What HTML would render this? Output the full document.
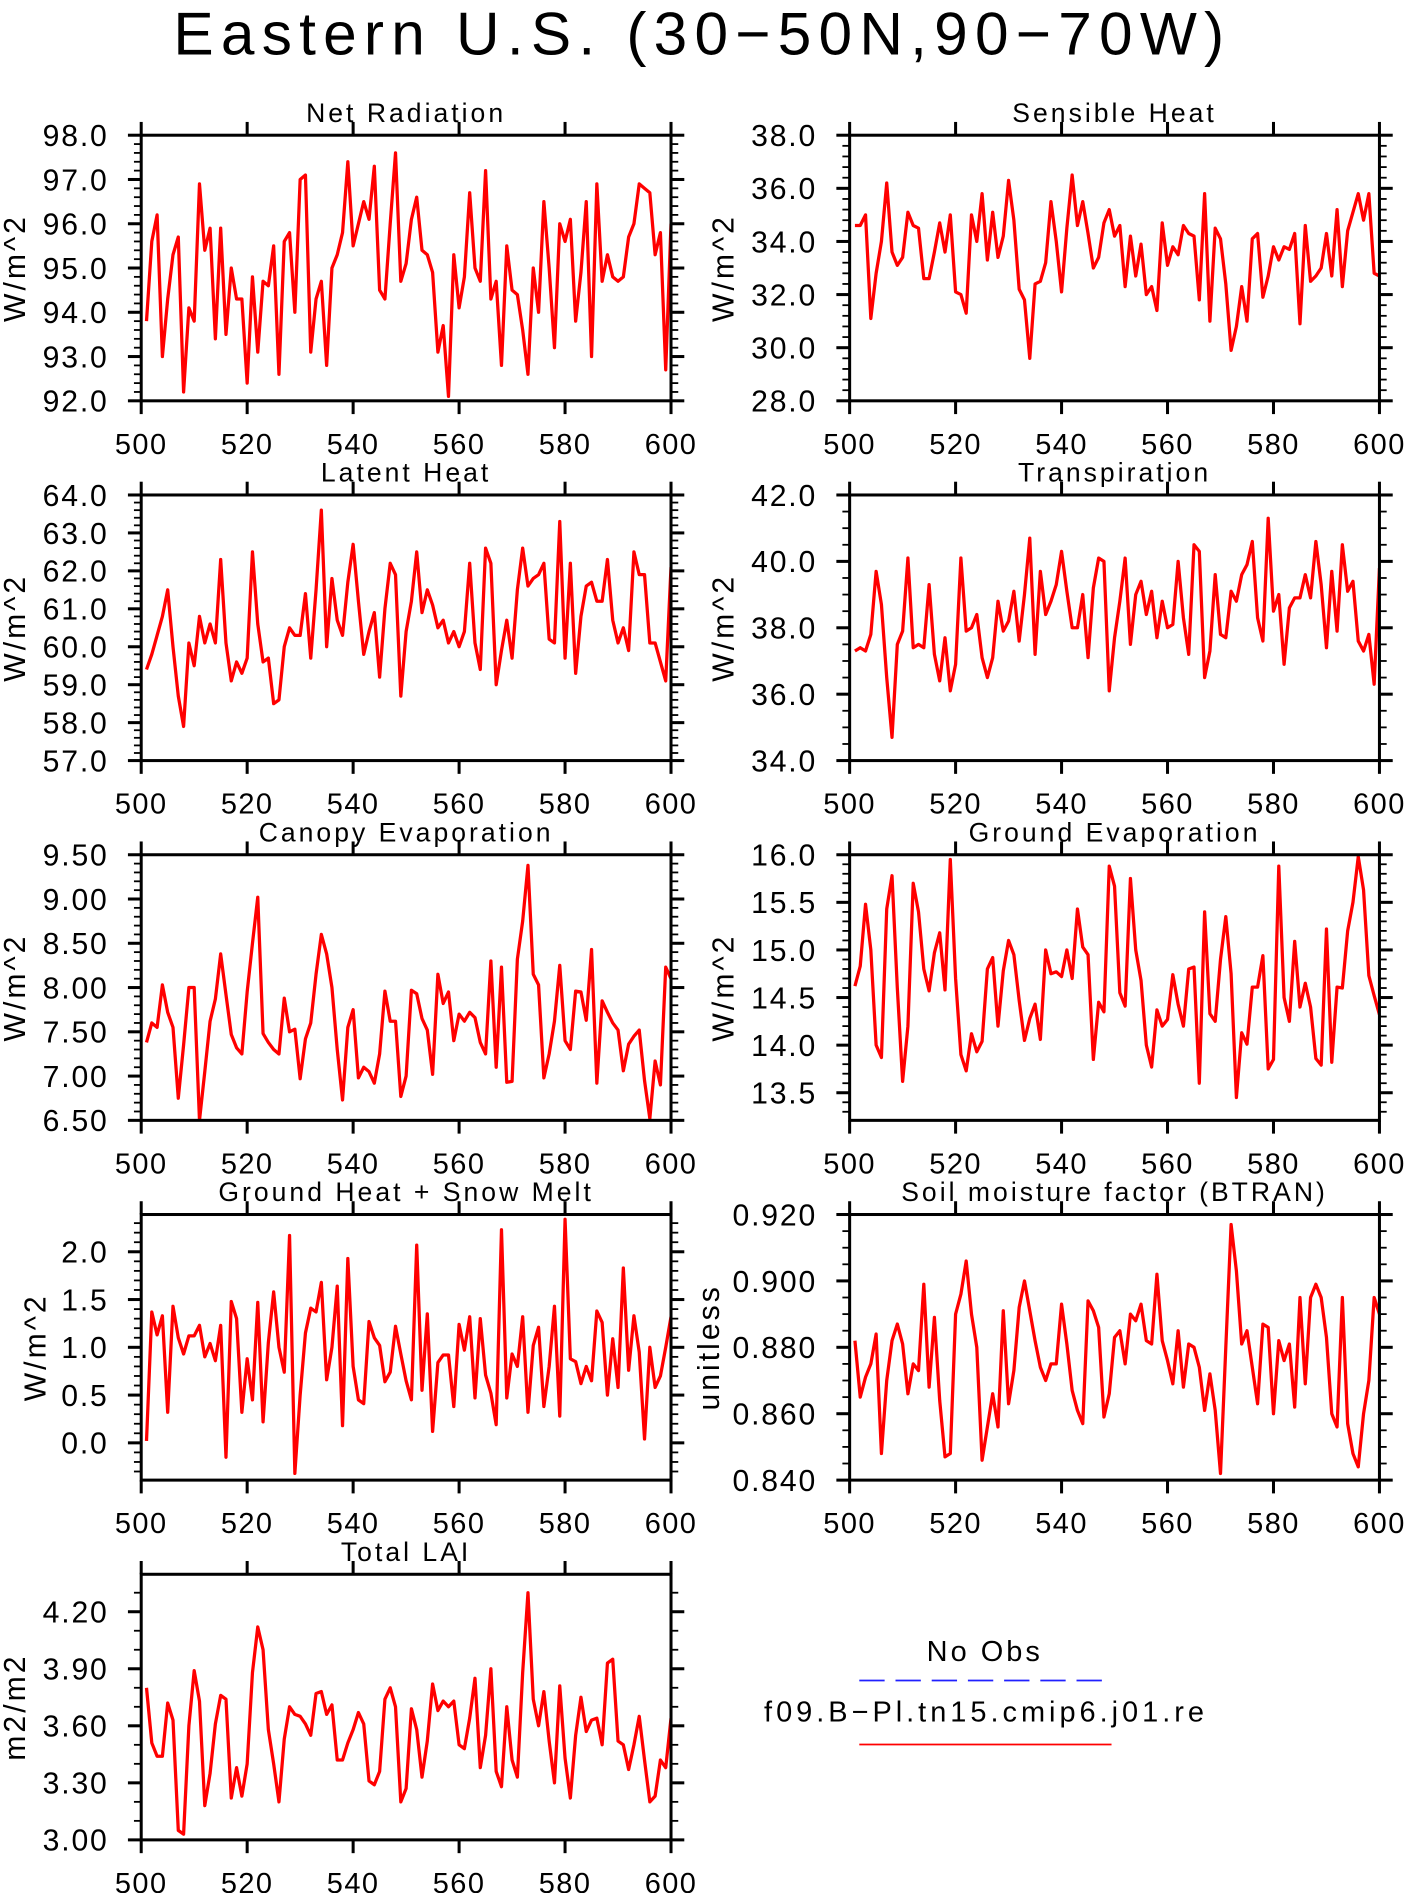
<!DOCTYPE html>
<html><head><meta charset="utf-8"><title>Eastern U.S.</title>
<style>html,body{margin:0;padding:0;background:#fff}svg{display:block}text{font-family:"Liberation Sans",sans-serif;fill:#000}</style></head>
<body>
<svg id="fig" width="1406" height="1893" viewBox="0 0 1165 1568" preserveAspectRatio="none" xmlns="http://www.w3.org/2000/svg">
<text x="582" y="45" font-size="50" text-anchor="middle" letter-spacing="6">Eastern U.S. (30−50N,90−70W)</text>
<g>
<text x="816" y="1376" font-size="24" text-anchor="middle" letter-spacing="2.5">No Obs</text>
<line x1="712" y1="1392" x2="921" y2="1392" stroke="#2020ff" stroke-width="1.5" stroke-dasharray="21,9"/>
<text x="817" y="1426" font-size="24" text-anchor="middle" letter-spacing="3.3">f09.B−Pl.tn15.cmip6.j01.re</text>
<line x1="712" y1="1445" x2="921" y2="1445" stroke="#ff0000" stroke-width="1.5"/>
</g>
</svg>
<script>
const years = []; for (let y = 501; y <= 600; y++) years.push(y);
const xTicks = [500,520,540,560,580,600];
const netRad = [93.8,95.6,96.2,93.0,94.3,95.3,95.7,92.2,94.1,93.8,96.9,95.4,95.9,93.4,95.9,93.5,95.0,94.3,94.3,92.4,94.8,93.1,94.7,94.6,95.5,92.6,95.6,95.8,94.0,97.0,97.1,93.1,94.3,94.7,92.8,95.0,95.3,95.8,97.4,95.5,96.0,96.5,96.1,97.3,94.5,94.3,96.0,97.6,94.7,95.1,96.1,96.6,95.4,95.3,94.9,93.1,93.7,92.1,95.3,94.1,94.8,96.7,95.0,94.7,97.2,94.3,94.7,92.8,95.5,94.5,94.4,93.6,92.6,95.0,94.0,96.5,95.0,93.2,96.0,95.6,96.1,93.8,94.9,96.5,93.0,96.9,94.7,95.3,94.8,94.7,94.8,95.7,96.0,96.9,96.8,96.7,95.3,95.8,92.7,96.0];
const sensible = [34.6,34.6,35.0,31.1,32.8,34.0,36.2,33.6,33.1,33.4,35.1,34.6,34.5,32.6,32.6,33.6,34.7,33.6,35.0,32.1,32.0,31.3,35.0,34.0,35.8,33.3,35.1,33.4,34.2,36.3,34.8,32.2,31.8,29.6,32.4,32.5,33.2,35.5,34.0,32.1,34.5,36.5,34.6,35.5,34.3,33.0,33.4,34.7,35.2,34.2,34.6,32.3,34.2,32.7,33.9,32.0,32.3,31.4,34.7,33.1,33.8,33.5,34.6,34.3,34.2,31.8,35.8,31.0,34.5,34.1,32.4,29.9,30.8,32.3,31.0,34.1,34.3,31.9,32.7,33.8,33.3,33.8,33.7,34.3,30.9,34.6,32.5,32.7,33.0,34.3,32.7,35.2,32.3,34.4,35.1,35.8,34.8,35.8,32.8,32.7];
const latent = [59.4,59.8,60.3,60.8,61.5,60.0,58.7,57.9,60.1,59.5,60.8,60.1,60.6,60.1,62.3,60.1,59.1,59.6,59.3,59.7,62.5,60.6,59.6,59.7,58.5,58.6,60.0,60.5,60.3,60.3,61.4,59.7,61.5,63.6,60.0,61.8,60.7,60.3,61.7,62.7,61.2,59.8,60.4,60.9,59.2,61.0,62.2,61.9,58.7,60.4,61.2,62.5,60.9,61.5,61.1,60.5,60.7,60.1,60.4,60.0,60.4,62.2,60.1,59.4,62.6,62.2,59.0,59.9,60.7,59.7,61.5,62.6,61.6,61.8,61.9,62.2,60.2,60.1,63.3,59.7,62.2,59.3,60.8,61.6,61.7,61.2,61.2,62.3,60.7,60.1,60.5,59.9,62.5,61.9,61.9,60.1,60.1,59.6,59.1,62.1];
const transp = [37.3,37.4,37.3,37.8,39.7,38.7,36.5,34.7,37.5,37.9,40.1,37.4,37.5,37.4,39.3,37.2,36.4,37.7,36.1,36.9,40.1,37.9,38.0,38.4,37.1,36.5,37.1,38.8,37.9,38.2,39.1,37.6,39.0,40.7,37.2,39.7,38.4,38.8,39.3,40.3,39.1,38.0,38.0,39.0,37.1,39.2,40.1,40.0,36.1,37.7,38.8,40.1,37.5,39.0,39.4,38.4,39.1,37.7,38.8,38.0,38.1,40.0,38.3,37.2,40.5,40.3,36.5,37.3,39.6,37.8,37.7,39.1,38.8,39.6,39.9,40.6,38.3,37.6,41.3,38.5,39.0,36.9,38.6,38.9,38.9,39.6,38.9,40.6,39.3,37.4,39.7,37.9,40.5,39.1,39.4,37.6,37.3,37.8,36.3,39.8];
const canopy = [7.38,7.60,7.55,8.03,7.72,7.55,6.75,7.35,8.00,8.00,6.50,7.05,7.62,7.87,8.38,7.92,7.47,7.32,7.25,7.95,8.50,9.02,7.48,7.38,7.30,7.25,7.88,7.50,7.53,6.97,7.42,7.60,8.15,8.60,8.38,8.00,7.30,6.73,7.55,7.75,6.98,7.10,7.05,6.92,7.25,7.96,7.62,7.62,6.77,7.00,7.97,7.93,7.65,7.52,7.02,8.15,7.82,7.95,7.40,7.70,7.62,7.72,7.66,7.38,7.25,8.30,7.10,8.23,6.93,6.94,8.32,8.75,9.38,8.15,8.03,6.98,7.25,7.62,8.25,7.40,7.30,7.96,7.95,7.63,8.43,6.92,7.85,7.72,7.60,7.52,7.06,7.36,7.45,7.52,6.95,6.52,7.17,6.90,8.23,8.10];
const groundEvap = [14.62,14.83,15.48,15.00,14.00,13.87,15.43,15.78,14.60,13.62,14.20,15.70,15.40,14.80,14.57,14.97,15.18,14.58,15.95,14.70,13.90,13.73,14.12,13.93,14.04,14.80,14.92,14.20,14.78,15.10,14.95,14.47,14.05,14.28,14.43,14.06,15.00,14.75,14.77,14.72,15.00,14.70,15.43,15.03,14.95,13.85,14.45,14.35,15.88,15.67,14.55,14.41,15.75,15.00,14.68,14.00,13.77,14.37,14.20,14.27,14.74,14.43,14.20,14.80,14.82,13.60,15.40,14.33,14.25,14.90,15.35,14.75,13.45,14.13,14.01,14.61,14.61,14.94,13.75,13.85,15.88,14.50,14.25,15.09,14.40,14.65,14.40,13.86,13.79,15.22,13.82,14.61,14.60,15.20,15.50,15.98,15.63,14.73,14.52,14.32];
const groundHeat = [0.02,1.37,1.13,1.33,0.32,1.43,1.10,0.93,1.12,1.12,1.23,0.90,1.04,0.86,1.23,-0.15,1.48,1.30,0.32,0.88,0.45,1.47,0.22,1.05,1.58,1.00,0.74,2.17,-0.32,0.50,1.15,1.41,1.37,1.68,0.66,1.00,1.64,0.18,1.93,0.80,0.45,0.41,1.27,1.10,1.02,0.64,0.74,1.22,0.93,0.65,0.45,2.07,0.55,1.35,0.12,0.84,0.92,0.92,0.38,1.24,0.97,1.32,0.47,1.30,0.71,0.52,0.19,2.23,0.47,0.93,0.80,1.32,0.32,1.02,1.21,0.38,0.80,1.43,0.28,2.34,0.88,0.85,0.62,0.80,0.65,1.38,1.26,0.50,1.09,0.58,1.83,0.76,1.33,0.95,0.04,1.00,0.58,0.70,1.00,1.32];
const btran = [0.882,0.865,0.871,0.875,0.884,0.848,0.870,0.882,0.887,0.881,0.866,0.875,0.873,0.899,0.868,0.889,0.864,0.847,0.848,0.890,0.896,0.906,0.890,0.880,0.846,0.856,0.866,0.856,0.891,0.863,0.873,0.892,0.900,0.891,0.882,0.874,0.870,0.875,0.875,0.893,0.881,0.867,0.861,0.857,0.894,0.891,0.886,0.859,0.866,0.883,0.885,0.875,0.890,0.888,0.893,0.882,0.881,0.902,0.882,0.876,0.869,0.885,0.868,0.881,0.880,0.874,0.861,0.872,0.861,0.842,0.880,0.917,0.903,0.881,0.885,0.874,0.863,0.887,0.886,0.860,0.882,0.876,0.881,0.862,0.895,0.869,0.895,0.899,0.895,0.883,0.860,0.856,0.895,0.857,0.848,0.844,0.860,0.870,0.895,0.890];
const lai = [3.80,3.51,3.44,3.44,3.72,3.63,3.05,3.03,3.60,3.89,3.73,3.18,3.35,3.61,3.76,3.74,3.22,3.38,3.23,3.40,3.88,4.12,4.00,3.58,3.40,3.20,3.53,3.70,3.66,3.65,3.61,3.55,3.77,3.78,3.66,3.71,3.42,3.42,3.51,3.58,3.67,3.61,3.31,3.29,3.36,3.74,3.80,3.70,3.20,3.27,3.69,3.58,3.33,3.52,3.82,3.68,3.73,3.70,3.73,3.50,3.48,3.64,3.85,3.38,3.55,3.90,3.36,3.28,3.70,3.42,3.33,3.88,4.30,3.74,3.60,3.78,3.52,3.30,3.81,3.43,3.22,3.55,3.75,3.57,3.63,3.64,3.50,3.93,3.95,3.52,3.50,3.37,3.50,3.65,3.42,3.20,3.23,3.42,3.38,3.64];
const ticksNet = ["92.0","93.0","94.0","95.0","96.0","97.0","98.0"];
const ticksSens = ["28.0","30.0","32.0","34.0","36.0","38.0"];
const ticksLat = ["57.0","58.0","59.0","60.0","61.0","62.0","63.0","64.0"];
const ticksTr = ["34.0","36.0","38.0","40.0","42.0"];
const ticksCan = ["6.50","7.00","7.50","8.00","8.50","9.00","9.50"];
const ticksGe = ["13.5","14.0","14.5","15.0","15.5","16.0"];
const ticksGh = ["0.0","0.5","1.0","1.5","2.0"];
const ticksBt = ["0.840","0.860","0.880","0.900","0.920"];
const ticksLai = ["3.00","3.30","3.60","3.90","4.20"];

const NS = "http://www.w3.org/2000/svg";
const svg = document.getElementById("fig");
function mk(tag, parent) { const e = document.createElementNS(NS, tag); parent.appendChild(e); return e; }

const panels = [
 {key:"net-radiation", title:"Net Radiation", unit:"W/m^2", vals:netRad, ticks:ticksNet, ymin:92, ymax:98, minor:5, x0:117, y0:112, ux:13},
 {key:"sensible-heat", title:"Sensible Heat", unit:"W/m^2", vals:sensible, ticks:ticksSens, ymin:28, ymax:38, minor:5, x0:704, y0:112, ux:600},
 {key:"latent-heat", title:"Latent Heat", unit:"W/m^2", vals:latent, ticks:ticksLat, ymin:57, ymax:64, minor:5, x0:117, y0:410, ux:13},
 {key:"transpiration", title:"Transpiration", unit:"W/m^2", vals:transp, ticks:ticksTr, ymin:34, ymax:42, minor:4, x0:704, y0:410, ux:600},
 {key:"canopy-evaporation", title:"Canopy Evaporation", unit:"W/m^2", vals:canopy, ticks:ticksCan, ymin:6.5, ymax:9.5, minor:5, x0:117, y0:708, ux:13},
 {key:"ground-evaporation", title:"Ground Evaporation", unit:"W/m^2", vals:groundEvap, ticks:ticksGe, ymin:13.21, ymax:16.0, minor:5, x0:704, y0:708, ux:600},
 {key:"ground-heat-snow-melt", title:"Ground Heat + Snow Melt", unit:"W/m^2", vals:groundHeat, ticks:ticksGh, ymin:-0.39, ymax:2.39, minor:5, x0:117, y0:1006, ux:30},
 {key:"soil-moisture-factor", title:"Soil moisture factor (BTRAN)", unit:"unitless", vals:btran, ticks:ticksBt, ymin:0.84, ymax:0.92, minor:4, x0:704, y0:1006, ux:588},
 {key:"total-lai", title:"Total LAI", unit:"m2/m2", vals:lai, ticks:ticksLai, ymin:3.0, ymax:4.397, minor:3, x0:117, y0:1304, ux:13}
];
const W = 439, H = 220;

panels.forEach(p => {
  const g = mk("g", svg);
  
  
  const xs = v => p.x0 + (v - 500) / 100 * W;
  const ys = v => p.y0 + H - (v - p.ymin) / (p.ymax - p.ymin) * H;
  const t = mk("text", g);
  
  
  t.setAttribute("x", p.x0 + W / 2); t.setAttribute("y", p.y0 - 11);
  t.setAttribute("font-size", "22"); t.setAttribute("text-anchor", "middle");
  t.setAttribute("letter-spacing", "2.5");
  t.textContent = p.title;
  const u = mk("text", g);
  
  
  const cy = p.y0 + H / 2;
  u.setAttribute("x", p.ux); u.setAttribute("y", cy);
  u.setAttribute("font-size", "25"); u.setAttribute("text-anchor", "middle");
  u.setAttribute("letter-spacing", "2.5");
  u.setAttribute("dominant-baseline", "central");
  u.setAttribute("transform", "rotate(-90 " + p.ux + " " + cy + ")");
  u.textContent = p.unit;
  xTicks.forEach(v => {
    const X = xs(v);
    const l1 = mk("line", g);
    
    
    l1.setAttribute("x1", X); l1.setAttribute("x2", X); l1.setAttribute("y1", p.y0 + H); l1.setAttribute("y2", p.y0 + H + 11);
    l1.setAttribute("stroke", "#000"); l1.setAttribute("stroke-width", "2.5");
    const l2 = mk("line", g);
    
    
    l2.setAttribute("x1", X); l2.setAttribute("x2", X); l2.setAttribute("y1", p.y0); l2.setAttribute("y2", p.y0 - 11);
    l2.setAttribute("stroke", "#000"); l2.setAttribute("stroke-width", "2.5");
    const tl = mk("text", g);
    
    
    tl.setAttribute("x", X); tl.setAttribute("y", p.y0 + H + 44);
    tl.setAttribute("font-size", "24"); tl.setAttribute("text-anchor", "middle");
    tl.setAttribute("letter-spacing", "1.2");
    tl.textContent = v;
  });
  p.ticks.forEach((s, i) => {
    const v = parseFloat(s);
    const Y = ys(v);
    [[p.x0, p.x0 - 11], [p.x0 + W, p.x0 + W + 11]].forEach(([a, b]) => {
      const l = mk("line", g);
      
      
      l.setAttribute("x1", a); l.setAttribute("x2", b); l.setAttribute("y1", Y); l.setAttribute("y2", Y);
      l.setAttribute("stroke", "#000"); l.setAttribute("stroke-width", "2.5");
    });
    const tl = mk("text", g);
    
    
    tl.setAttribute("x", p.x0 - 27); tl.setAttribute("y", Y + 9);
    tl.setAttribute("font-size", "25"); tl.setAttribute("text-anchor", "end");
    tl.setAttribute("letter-spacing", "1.5");
    tl.textContent = s;
  });
  const step = parseFloat(p.ticks[1]) - parseFloat(p.ticks[0]);
  const ms = step / p.minor;
  for (let v = parseFloat(p.ticks[0]) - 3 * ms; v <= p.ymax + 1e-9; v += ms) {
    if (v < p.ymin - 1e-9) continue;
    const Y = ys(v);
    [[p.x0, p.x0 - 6], [p.x0 + W, p.x0 + W + 6]].forEach(([a, b]) => {
      const l = mk("line", g);
      
      
      l.setAttribute("x1", a); l.setAttribute("x2", b); l.setAttribute("y1", Y); l.setAttribute("y2", Y);
      l.setAttribute("stroke", "#000"); l.setAttribute("stroke-width", "1.5");
    });
  }
  const clipId = "clip-" + p.key;
  const cp = mk("clipPath", g);
  cp.setAttribute("id", clipId);
  const cr = mk("rect", cp);
  cr.setAttribute("x", p.x0); cr.setAttribute("y", p.y0); cr.setAttribute("width", W); cr.setAttribute("height", H);
  const pl = mk("polyline", g);
  
  
  pl.setAttribute("points", p.vals.map((v, i) => xs(years[i]).toFixed(2) + "," + ys(v).toFixed(2)).join(" "));
  pl.setAttribute("fill", "none"); pl.setAttribute("stroke", "#ff0000"); pl.setAttribute("stroke-width", "2.7");
  pl.setAttribute("stroke-linejoin", "round");
  pl.setAttribute("clip-path", "url(#" + clipId + ")");
  const fr = mk("rect", g);
  
  
  fr.setAttribute("x", p.x0); fr.setAttribute("y", p.y0); fr.setAttribute("width", W); fr.setAttribute("height", H);
  fr.setAttribute("fill", "none"); fr.setAttribute("stroke", "#000"); fr.setAttribute("stroke-width", "2.5");
});
</script>
</body></html>
